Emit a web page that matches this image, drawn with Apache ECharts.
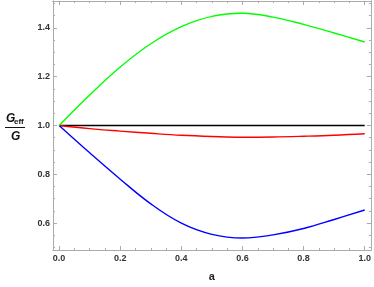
<!DOCTYPE html>
<html><head><meta charset="utf-8">
<script src="https://cdn.jsdelivr.net/npm/echarts@6/dist/echarts.min.js"></script>
<style>html,body{margin:0;padding:0;background:#fff}#c{width:374px;height:287px}</style>
</head><body><div id="c"></div>
<script>
const aValues = [0, 0.1, 0.2, 0.3, 0.4, 0.5, 0.6, 0.7, 0.8, 0.9, 1.0];
const greenValues = [1.0, 1.125, 1.240, 1.335, 1.405, 1.447, 1.460, 1.444, 1.414, 1.379, 1.342];
const blueValues = [1.0, 0.888, 0.780, 0.679, 0.600, 0.554, 0.539, 0.552, 0.578, 0.615, 0.654];
const redValues = [1.0, 0.987, 0.977, 0.968, 0.960, 0.955, 0.952, 0.953, 0.956, 0.960, 0.966];
const blackValues = [1, 1, 1, 1, 1, 1, 1, 1, 1, 1, 1];
const xTickLabels = [0, 0.2, 0.4, 0.6, 0.8, 1.0];
const yTickLabels = [0.6, 0.8, 1.0, 1.2, 1.4];
const xMinorTicks = [0,0.05,0.1,0.15,0.2,0.25,0.3,0.35,0.4,0.45,0.5,0.55,0.6,0.65,0.7,0.75,0.8,0.85,0.9,0.95,1.0];
const yMinorTicks = [0.5,0.55,0.6,0.65,0.7,0.75,0.8,0.85,0.9,0.95,1.0,1.05,1.1,1.15,1.2,1.25,1.3,1.35,1.4,1.45,1.5];

const frameColor = '#ababab';
const font = 'Liberation Sans, Arial, sans-serif';
function axis(kind, pos, ticks, len, labels, extra) {
  const a = {
    type: 'value', position: pos,
    min: kind === 'x' ? -0.02 : 0.49,
    max: kind === 'x' ? 1.02 : 1.51,
    axisLine: { show: true, onZero: false, lineStyle: { color: frameColor, width: 1 } },
    axisTick: { show: true, inside: true, length: len, customValues: ticks, lineStyle: { color: frameColor, width: 1 } },
    axisLabel: labels ? {
      show: true, customValues: labels, formatter: v => v.toFixed(1),
      fontFamily: font, fontWeight: 'bold', fontSize: 9, color: '#333', margin: kind === 'x' ? 4 : 3
    } : { show: false },
    splitLine: { show: false }
  };
  return Object.assign(a, extra || {});
}
const chart = echarts.init(document.getElementById('c'), null, { renderer: 'canvas' });
function mk(vals) { return aValues.map((a, i) => [a, vals[i]]); }
chart.setOption({
  animation: false,
  backgroundColor: '#fff',
  grid: { left: 53, right: 3, top: 1, bottom: 31, containLabel: false },
  xAxis: [
    axis('x', 'bottom', xTickLabels, 4, xTickLabels, {
      name: 'a', nameLocation: 'middle', nameGap: 21,
      nameTextStyle: { fontFamily: font, fontWeight: 'bold', fontSize: 11, color: '#222' }
    }),
    axis('x', 'bottom', xMinorTicks, 2, null),
    axis('x', 'top', xTickLabels, 4, null),
    axis('x', 'top', xMinorTicks, 2, null)
  ],
  yAxis: [
    axis('y', 'left', yTickLabels, 4, yTickLabels),
    axis('y', 'left', yMinorTicks, 2, null),
    axis('y', 'right', yTickLabels, 4, null),
    axis('y', 'right', yMinorTicks, 2, null)
  ],
  graphic: [
    { type: 'text', left: 6, top: 113, style: { text: 'G', font: 'italic bold 12px ' + font, fill: '#111' } },
    { type: 'text', left: 14, top: 118, style: { text: 'eff', font: 'bold 8px ' + font, fill: '#111' } },
    { type: 'line', shape: { x1: 5, y1: 127.5, x2: 25, y2: 127.5 }, style: { stroke: '#111', lineWidth: 1 } },
    { type: 'text', left: 11, top: 131, style: { text: 'G', font: 'italic bold 12px ' + font, fill: '#111' } }
  ],
  series: [
    { type: 'line', data: mk(blackValues), showSymbol: false, lineStyle: { color: '#000', width: 1.4 } },
    { type: 'line', data: mk(redValues), smooth: 0.4, showSymbol: false, lineStyle: { color: '#ff0000', width: 1.4 } },
    { type: 'line', data: mk(blueValues), smooth: 0.4, showSymbol: false, lineStyle: { color: '#0000ff', width: 1.4 } },
    { type: 'line', data: mk(greenValues), smooth: 0.4, showSymbol: false, lineStyle: { color: '#00ff00', width: 1.4 } }
  ]
});
</script></body></html>
